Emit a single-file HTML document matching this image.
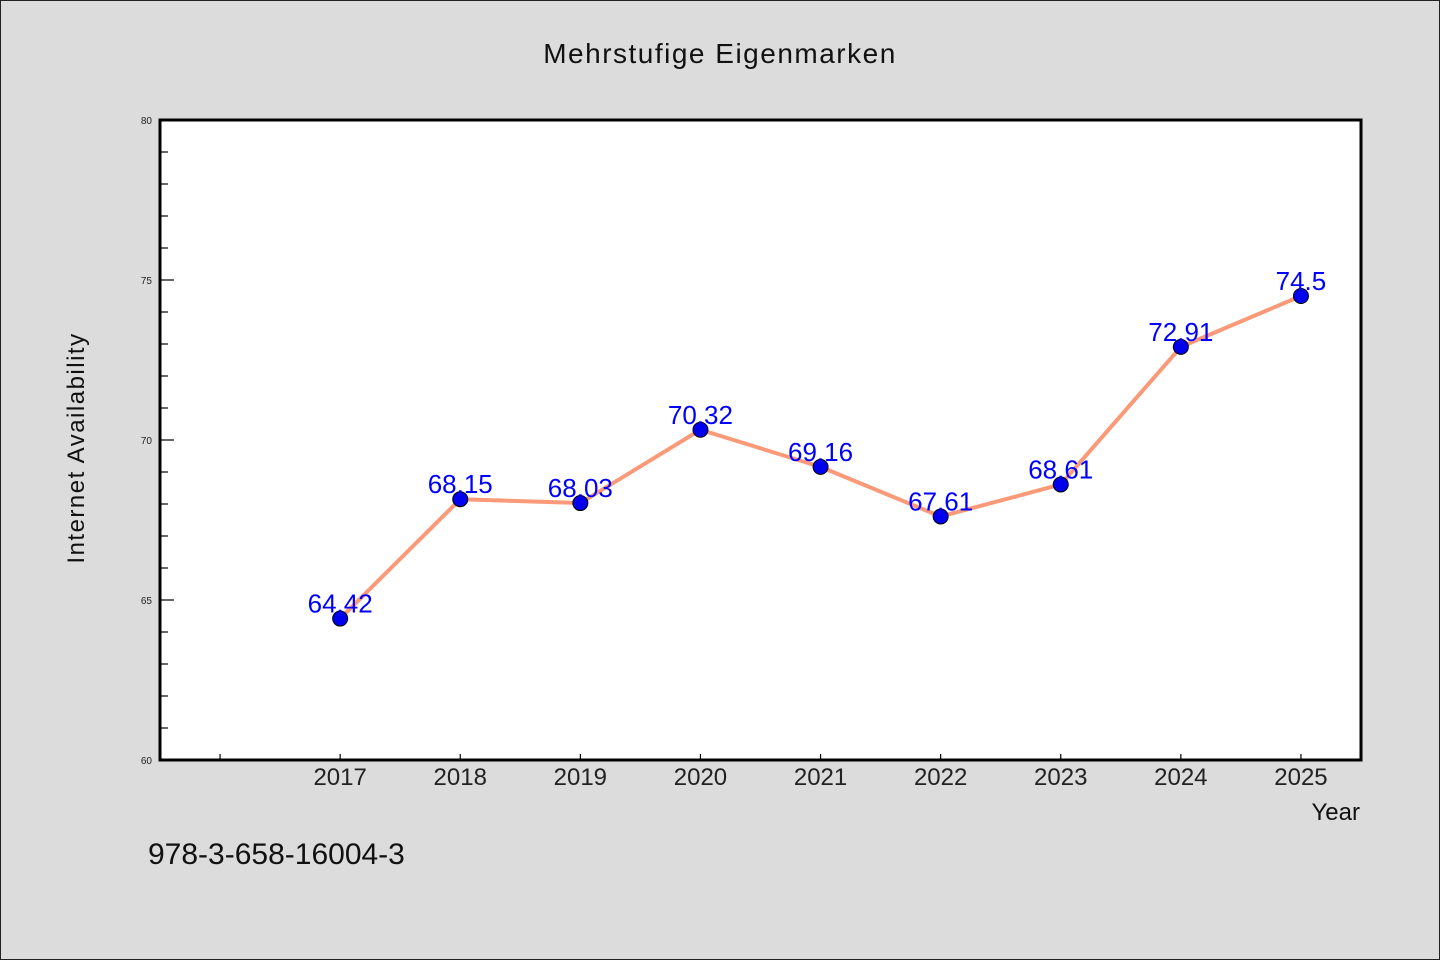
<!DOCTYPE html>
<html><head><meta charset="utf-8"><style>
html,body{margin:0;padding:0;background:#dcdcdc;}
svg{display:block;font-family:"WenQuanYi Zen Hei","Liberation Sans",sans-serif;}
</style></head><body>
<svg id="chart" width="1440" height="960" viewBox="0 0 1440 960" xmlns="http://www.w3.org/2000/svg">
<rect x="0.5" y="0.5" width="1439" height="959" fill="#dcdcdc" stroke="#222"/>
<text x="720" y="63" text-anchor="middle" font-size="28" fill="#111" letter-spacing="1.5">Mehrstufige Eigenmarken</text>
<rect x="160" y="120" width="1201" height="640" fill="#fff"/>
<g id="axes"></g>
<g id="series"></g>
<rect x="160" y="120" width="1201" height="640" fill="none" stroke="#000" stroke-width="3"/>
<text x="1360" y="820" text-anchor="end" font-size="24" fill="#111">Year</text>
<text transform="translate(84,448) rotate(-90)" text-anchor="middle" font-size="24" fill="#111" letter-spacing="1.5">Internet Availability</text>
<text x="148" y="864" font-size="30" fill="#111">978-3-658-16004-3</text>
</svg>
<script>
const years = [2017, 2018, 2019, 2020, 2021, 2022, 2023, 2024, 2025];
const values = [64.42, 68.15, 68.03, 70.32, 69.16, 67.61, 68.61, 72.91, 74.5];
const valueLabels = ["64.42", "68.15", "68.03", "70.32", "69.16", "67.61", "68.61", "72.91", "74.5"];
const yTicks = [60, 65, 70, 75, 80];
const xTickYears = [2016, 2017, 2018, 2019, 2020, 2021, 2022, 2023, 2024, 2025];

const NS = "http://www.w3.org/2000/svg";
const X0 = 160, X1 = 1361, Y0 = 760, Y1 = 120;
const xMin = 2015.5, xMax = 2025.5, yMin = 60, yMax = 80;
function xs(v){ return X0 + (v - xMin) / (xMax - xMin) * (X1 - X0); }
function ys(v){ return Y0 - (v - yMin) / (yMax - yMin) * (Y0 - Y1); }
function mk(tag, attrs, parent){ const e = document.createElementNS(NS, tag); for (const k in attrs) e.setAttribute(k, attrs[k]); parent.appendChild(e); return e; }

const axes = document.getElementById('axes');
for (let v = yMin; v <= yMax; v += 1) {
  const major = yTicks.includes(v);
  const t = mk('line', {x1: X0, x2: X0 + (major ? 14 : 8), y1: ys(v), y2: ys(v), stroke: '#000', 'stroke-width': 1.2}, axes);
  
  
}
yTicks.forEach(v => {
  const t = mk('text', {x: X0 - 8, y: ys(v) + 4, 'text-anchor': 'end', 'font-size': 10, fill: '#222'}, axes);
  t.textContent = v;
  
  
});
xTickYears.forEach(v => {
  const t = mk('line', {x1: xs(v), x2: xs(v), y1: Y0, y2: Y0 - 6, stroke: '#000', 'stroke-width': 1.2}, axes);
  
  
});
years.forEach(v => {
  const t = mk('text', {x: xs(v), y: 785, 'text-anchor': 'middle', 'font-size': 24, fill: '#222'}, axes);
  t.textContent = v;
  
  
});

const series = document.getElementById('series');
const pts = years.map((y, i) => xs(y) + ',' + ys(values[i])).join(' ');
const line = mk('polyline', {points: pts, fill: 'none', stroke: '#fa9a78', 'stroke-width': 4, 'stroke-linejoin': 'round'}, series);


years.forEach((y, i) => {
  const c = mk('circle', {cx: xs(y), cy: ys(values[i]), r: 7.5, fill: '#0000ee', stroke: '#000', 'stroke-width': 1}, series);
  
  
  const t = mk('text', {x: xs(y), y: ys(values[i]) - 6, 'text-anchor': 'middle', 'font-size': 26, fill: '#0000ff'}, series);
  t.textContent = valueLabels[i];
  
  
});
</script>
</body></html>
